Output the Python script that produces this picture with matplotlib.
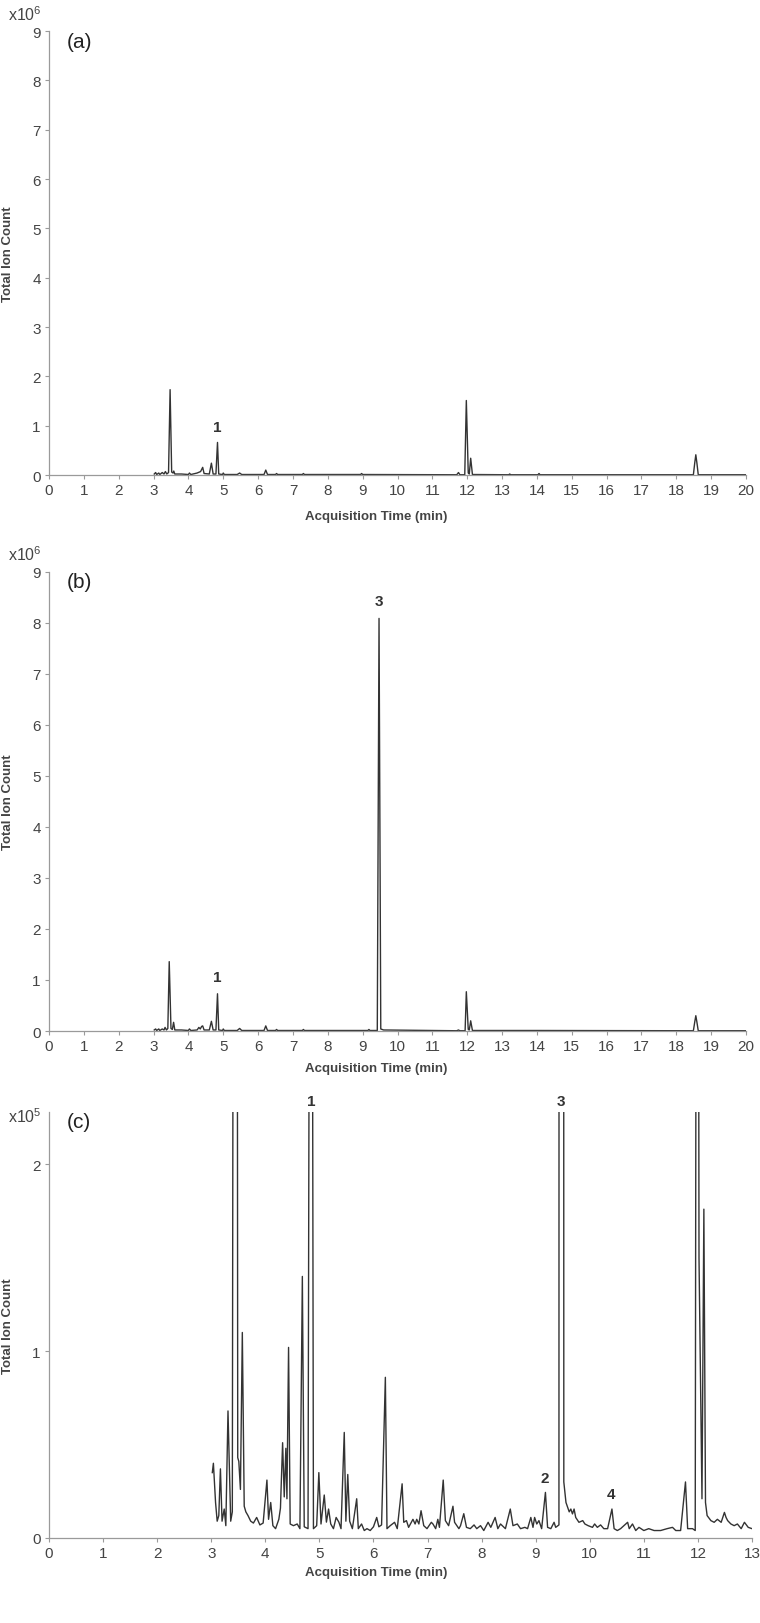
import matplotlib
matplotlib.use("Agg")
import matplotlib.pyplot as plt

plt.rcParams['font.family'] = ['Liberation Sans', 'DejaVu Sans']
plt.rcParams['mathtext.default'] = 'regular'

# ---- panel (a): total ion count, x10^6 ----
time_a = [3.02, 3.06, 3.09, 3.15, 3.18, 3.25, 3.30, 3.34, 3.38, 3.43, 3.475, 3.52,
          3.56, 3.58, 3.61, 3.80, 4.00, 4.03, 4.07, 4.25, 4.35, 4.41, 4.45, 4.60,
          4.66, 4.71, 4.79, 4.835, 4.87, 4.98, 5.00, 5.03, 5.40, 5.47, 5.53, 6.17,
          6.22, 6.27, 6.50, 6.53, 6.56, 7.27, 7.30, 7.33, 8.94, 8.97, 9.00, 11.70,
          11.75, 11.79, 11.93, 11.975, 12.03, 12.06, 12.10, 12.15, 13.19, 13.22, 13.25,
          14.03, 14.06, 14.09, 18.49, 18.53, 18.56, 18.59, 18.63, 20.0]
tic_a = [0.02, 0.05, 0.01, 0.04, 0.01, 0.05, 0.02, 0.07, 0.02, 0.05, 1.73, 0.06,
         0.04, 0.08, 0.02, 0.02, 0.01, 0.04, 0.01, 0.04, 0.07, 0.155, 0.03, 0.02,
         0.24, 0.02, 0.02, 0.66, 0.02, 0.01, 0.04, 0.01, 0.01, 0.04, 0.01, 0.01,
         0.10, 0.01, 0.01, 0.03, 0.01, 0.01, 0.03, 0.01, 0.01, 0.03, 0.01, 0.005,
         0.05, 0.005, 0.005, 1.51, 0.04, 0.02, 0.34, 0.01, 0.005, 0.02, 0.005,
         0.005, 0.03, 0.005, 0.005, 0.25, 0.41, 0.25, 0.005, 0.005]

# ---- panel (b): total ion count, x10^6 ----
time_b = [3.02, 3.06, 3.09, 3.15, 3.18, 3.25, 3.30, 3.33, 3.37, 3.41, 3.45, 3.50,
          3.54, 3.575, 3.61, 3.80, 4.00, 4.03, 4.07, 4.25, 4.30, 4.34, 4.38, 4.41,
          4.45, 4.60, 4.66, 4.71, 4.79, 4.835, 4.87, 4.98, 5.00, 5.03, 5.40, 5.47,
          5.53, 6.17, 6.22, 6.27, 6.50, 6.53, 6.56, 7.27, 7.30, 7.33, 9.15, 9.18,
          9.21, 9.42, 9.47, 9.52, 9.60, 11.70, 11.75, 11.79, 11.94, 11.975, 12.03,
          12.06, 12.10, 12.15, 13.22, 14.06, 18.49, 18.53, 18.56, 18.59, 18.63, 20.0]
tic_b = [0.02, 0.04, 0.01, 0.04, 0.01, 0.04, 0.02, 0.07, 0.02, 0.05, 1.36, 0.05,
         0.03, 0.17, 0.02, 0.02, 0.01, 0.04, 0.01, 0.02, 0.07, 0.04, 0.09, 0.10,
         0.02, 0.02, 0.19, 0.02, 0.02, 0.73, 0.02, 0.01, 0.04, 0.01, 0.01, 0.05,
         0.01, 0.01, 0.10, 0.01, 0.01, 0.03, 0.01, 0.01, 0.03, 0.01, 0.01, 0.03,
         0.01, 0.01, 8.09, 0.04, 0.02, 0.005, 0.02, 0.005, 0.005, 0.77, 0.03,
         0.02, 0.20, 0.01, 0.01, 0.01, 0.005, 0.18, 0.30, 0.18, 0.005, 0.005]

# ---- panel (c): zoom of (b), x10^5 ----
time_c = [3.02, 3.04, 3.08, 3.11, 3.14, 3.17, 3.20, 3.24, 3.27, 3.31, 3.36, 3.39,
          3.455, 3.49, 3.51, 3.54, 3.575, 3.61, 3.64, 3.68, 3.73, 3.78, 3.84, 3.90,
          3.96, 4.03, 4.06, 4.10, 4.14, 4.19, 4.25, 4.28, 4.32, 4.35, 4.38, 4.40,
          4.43, 4.46, 4.52, 4.59, 4.64, 4.685, 4.72, 4.79, 4.845, 4.89, 4.95, 4.99,
          5.03, 5.09, 5.13, 5.17, 5.21, 5.26, 5.31, 5.36, 5.40, 5.46, 5.49, 5.525,
          5.56, 5.61, 5.69, 5.72, 5.78, 5.83, 5.88, 5.94, 6.00, 6.06, 6.10, 6.15,
          6.22, 6.25, 6.31, 6.39, 6.44, 6.53, 6.56, 6.61, 6.65, 6.73, 6.77, 6.80,
          6.84, 6.88, 6.93, 6.99, 7.07, 7.10, 7.15, 7.19, 7.22, 7.29, 7.33, 7.39,
          7.47, 7.50, 7.58, 7.61, 7.67, 7.72, 7.79, 7.86, 7.91, 7.98, 8.04, 8.12,
          8.17, 8.25, 8.30, 8.35, 8.44, 8.53, 8.58, 8.66, 8.72, 8.80, 8.85, 8.91,
          8.95, 8.98, 9.02, 9.06, 9.11, 9.18, 9.22, 9.28, 9.34, 9.37, 9.43, 9.47,
          9.52, 9.56, 9.62, 9.65, 9.68, 9.71, 9.74, 9.80, 9.87, 9.91, 9.97, 10.05,
          10.09, 10.14, 10.20, 10.26, 10.33, 10.41, 10.45, 10.51, 10.57, 10.70, 10.73,
          10.79, 10.85, 10.91, 11.00, 11.09, 11.19, 11.31, 11.43, 11.53, 11.59, 11.68,
          11.77, 11.81, 11.90, 11.95, 11.99, 12.02, 12.075, 12.11, 12.14, 12.17, 12.24,
          12.30, 12.36, 12.43, 12.49, 12.52, 12.55, 12.61, 12.67, 12.73, 12.80, 12.86,
          12.93, 13.0]
tic_c = [0.35, 0.40, 0.19, 0.09, 0.12, 0.37, 0.09, 0.155, 0.066, 0.68, 0.09, 0.14,
         13.5, 0.43, 0.41, 0.26, 1.10, 0.17, 0.14, 0.12, 0.09, 0.08, 0.11, 0.07,
         0.08, 0.31, 0.10, 0.19, 0.066, 0.05, 0.10, 0.16, 0.51, 0.22, 0.48, 0.21,
         1.02, 0.075, 0.066, 0.075, 0.05, 1.40, 0.06, 0.05, 7.3, 0.05, 0.066, 0.35,
         0.075, 0.23, 0.085, 0.155, 0.075, 0.05, 0.11, 0.085, 0.05, 0.565, 0.09, 0.34,
         0.09, 0.05, 0.21, 0.05, 0.075, 0.04, 0.05, 0.04, 0.06, 0.11, 0.06, 0.07,
         0.86, 0.05, 0.066, 0.084, 0.05, 0.29, 0.084, 0.093, 0.057, 0.10, 0.075, 0.10,
         0.075, 0.146, 0.066, 0.05, 0.084, 0.075, 0.05, 0.10, 0.057, 0.31, 0.093, 0.066,
         0.17, 0.084, 0.05, 0.066, 0.13, 0.057, 0.05, 0.07, 0.05, 0.066, 0.04, 0.084,
         0.057, 0.11, 0.05, 0.075, 0.05, 0.155, 0.066, 0.075, 0.05, 0.057, 0.05, 0.11,
         0.057, 0.11, 0.075, 0.093, 0.05, 0.244, 0.057, 0.05, 0.084, 0.057, 0.07, 80.5,
         0.30, 0.19, 0.14, 0.155, 0.129, 0.155, 0.11, 0.084, 0.093, 0.075, 0.066, 0.057,
         0.075, 0.057, 0.070, 0.05, 0.05, 0.155, 0.05, 0.04, 0.05, 0.084, 0.05,
         0.075, 0.04, 0.057, 0.04, 0.05, 0.04, 0.04, 0.05, 0.057, 0.04, 0.04,
         0.30, 0.05, 0.05, 0.04, 7.8, 1.5, 0.21, 1.76, 0.19, 0.12, 0.093,
         0.084, 0.10, 0.084, 0.137, 0.11, 0.093, 0.075, 0.066, 0.075, 0.05, 0.084,
         0.057, 0.05]

# peak numbers: (label, time, height where text sits)
labels_a = [("1", 4.84, 0.98)]
labels_b = [("1", 4.84, 1.05), ("3", 9.47, 8.43)]
labels_c = [("1", 4.845, 2.34), ("3", 9.47, 2.34), ("2", 9.17, 0.32), ("4", 10.39, 0.235)]

line_col = '#333333'
spine_col = '#9a9a9a'
tick_col = '#444444'

fig = plt.figure(figsize=(7.6, 16.24), dpi=100)

H = 1624.0
W = 760.0


def make_axes(left, right, top, bottom):
    return fig.add_axes([left / W, 1 - bottom / H, (right - left) / W, (bottom - top) / H])


def style(ax):
    for s in ['top', 'right']:
        ax.spines[s].set_visible(False)
    for s in ['left', 'bottom']:
        ax.spines[s].set_color(spine_col)
        ax.spines[s].set_linewidth(0.9)
    ax.tick_params(direction='out', length=3, width=0.8, color=spine_col,
                   labelcolor=tick_col, labelsize=11, pad=3)
    ax.set_ylabel('Total Ion Count', fontsize=9.5, fontweight='bold', color=tick_col)
    ax.set_xlabel('Acquisition Time (min)', fontsize=9.5, fontweight='bold', color=tick_col)
    ax.xaxis.label.set_va('center')


panels = [
    (time_a, tic_a, labels_a, (49, 746, 32, 476), 9, 20, '(a)', r'x10$^{6}$', 15, 517),
    (time_b, tic_b, labels_b, (49, 746, 573, 1032), 9, 20, '(b)', r'x10$^{6}$', 555, 1069),
    (time_c, tic_c, labels_c, (49, 752, 1113, 1539), 2.28, 13, '(c)', r'x10$^{5}$', 1117, 1573),
]

for t, y, labs, box, ytop, xmax, tag, mult, mult_y, xlab_y in panels:
    left, right, top, bottom = box
    ax = make_axes(left, right, top, bottom)
    ax.plot(t, y, color=line_col, lw=1.0)
    ax.set_xlim(0, xmax)
    ax.set_ylim(0, ytop)
    ax.set_xticks(range(0, xmax + 1))
    if ytop > 3:
        ax.set_yticks(range(0, 10))
    else:
        ax.set_yticks([0, 1, 2])
    style(ax)
    ax.xaxis.set_label_coords((376 - left) / (right - left), -(xlab_y - bottom) / (bottom - top))
    ax.yaxis.set_label_coords(-(left - 14) / (right - left), 0.5)
    ax.text((67 - left) / (right - left), (bottom - (top + 10)) / (bottom - top), tag,
            transform=ax.transAxes, fontsize=15, color='#222222', va='center', ha='left')
    fig.text(8 / W, 1 - mult_y / H, mult, fontsize=11.5, color=tick_col, va='center', ha='left')
    for txt, xt, yt in labs:
        ax.text(xt, yt, txt, fontsize=11, fontweight='bold', color=line_col,
                ha='center', va='center', clip_on=False)

fig.savefig('out.png', dpi=100)
